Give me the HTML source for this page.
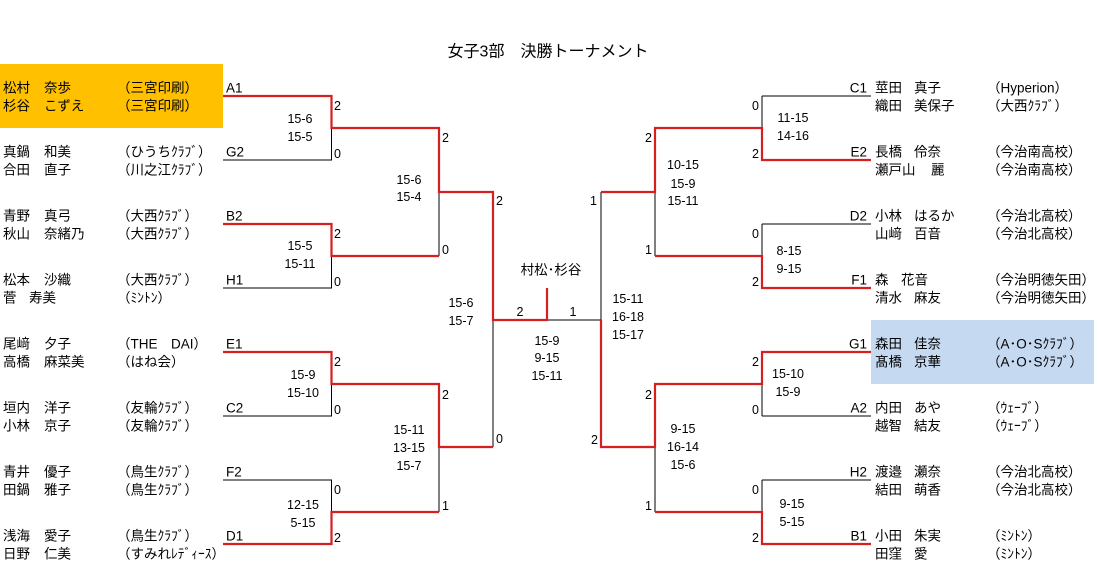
<!DOCTYPE html>
<html><head><meta charset="utf-8"><style>
html,body{margin:0;padding:0;background:#fff;}
svg{display:block;font-family:"Liberation Sans","Noto Sans CJK JP",sans-serif;}
text{dominant-baseline:central;fill:#000;}
.n{font-size:13.5px;}
.s{font-size:12.5px;fill:#1a1a2a;}
.c{text-anchor:middle;}
.e{text-anchor:end;}
</style></head><body>
<svg width="1094" height="577" viewBox="0 0 1094 577">
<rect x="0" y="64" width="223" height="64" fill="#FFC000"/>
<rect x="871" y="320" width="223" height="64" fill="#C5D9F1"/>
<text x="548" y="52" class="c" style="font-size:16px">女子3部　決勝トーナメント</text>

<g stroke="#000" stroke-width="1" fill="none">
<path d="M223 160H331.5V128M223 288H331.5V256M223 416H331.5V384M223 480H331.5V512M439 192V256M493 320V447M439 447V512M547 320H601V192M762 96H871M762 96V128M762 224H871M762 224V256M762 416H871M762 416V384M762 480H871M762 480V512M655 192V256M655 447V512"/>
</g>
<g stroke="#d42020" stroke-width="2.2" fill="none">
<path d="M223 96H331.5V128H439V192H493V320H547V288"/>
<path d="M223 224H331.5V256H439"/>
<path d="M223 352H331.5V384H439V447H493"/>
<path d="M223 544H331.5V512H439"/>
<path d="M871 160H762V128H655V192H601"/>
<path d="M871 288H762V256H655"/>
<path d="M871 352H762V384H655V447H601V320"/>
<path d="M871 544H762V512H655"/>
</g>

<g class="n">
<text x="3" y="88">松村</text><text x="44" y="88">奈歩</text><text x="117" y="88">（三宮印刷）</text>
<text x="3" y="106">杉谷</text><text x="44" y="106">こずえ</text><text x="117" y="106">（三宮印刷）</text>
<text x="3" y="152">真鍋</text><text x="44" y="152">和美</text><text x="117" y="152">（ひうちｸﾗﾌﾞ）</text>
<text x="3" y="170">合田</text><text x="44" y="170">直子</text><text x="117" y="170">（川之江ｸﾗﾌﾞ）</text>
<text x="3" y="216">青野</text><text x="44" y="216">真弓</text><text x="117" y="216">（大西ｸﾗﾌﾞ）</text>
<text x="3" y="234">秋山</text><text x="44" y="234">奈緒乃</text><text x="117" y="234">（大西ｸﾗﾌﾞ）</text>
<text x="3" y="280">松本</text><text x="44" y="280">沙織</text><text x="117" y="280">（大西ｸﾗﾌﾞ）</text>
<text x="3" y="298">菅</text><text x="29" y="298">寿美</text><text x="117" y="298">（ﾐﾝﾄﾝ）</text>
<text x="3" y="344">尾﨑</text><text x="44" y="344">夕子</text><text x="117" y="344">（THE　DAI）</text>
<text x="3" y="362">高橋</text><text x="44" y="362">麻菜美</text><text x="117" y="362">（はね会）</text>
<text x="3" y="408">垣内</text><text x="44" y="408">洋子</text><text x="117" y="408">（友輪ｸﾗﾌﾞ）</text>
<text x="3" y="426">小林</text><text x="44" y="426">京子</text><text x="117" y="426">（友輪ｸﾗﾌﾞ）</text>
<text x="3" y="472">青井</text><text x="44" y="472">優子</text><text x="117" y="472">（鳥生ｸﾗﾌﾞ）</text>
<text x="3" y="490">田鍋</text><text x="44" y="490">雅子</text><text x="117" y="490">（鳥生ｸﾗﾌﾞ）</text>
<text x="3" y="536">浅海</text><text x="44" y="536">愛子</text><text x="117" y="536">（鳥生ｸﾗﾌﾞ）</text>
<text x="3" y="554">日野</text><text x="44" y="554">仁美</text><text x="117" y="554">（すみれﾚﾃﾞｨｰｽ）</text>
<text x="226" y="88">A1</text><text x="226" y="152">G2</text><text x="226" y="216">B2</text><text x="226" y="280">H1</text>
<text x="226" y="344">E1</text><text x="226" y="408">C2</text><text x="226" y="472">F2</text><text x="226" y="536">D1</text>

<text x="875" y="88">莖田</text><text x="914" y="88">真子</text><text x="987" y="88">（Hyperion）</text>
<text x="875" y="106">織田</text><text x="914" y="106">美保子</text><text x="987" y="106">（大西ｸﾗﾌﾞ）</text>
<text x="875" y="152">長橋</text><text x="914" y="152">伶奈</text><text x="987" y="152">（今治南高校）</text>
<text x="875" y="170">瀬戸山</text><text x="931" y="170">麗</text><text x="987" y="170">（今治南高校）</text>
<text x="875" y="216">小林</text><text x="914" y="216">はるか</text><text x="987" y="216">（今治北高校）</text>
<text x="875" y="234">山﨑</text><text x="914" y="234">百音</text><text x="987" y="234">（今治北高校）</text>
<text x="875" y="280">森</text><text x="901" y="280">花音</text><text x="987" y="280">（今治明徳矢田）</text>
<text x="875" y="298">清水</text><text x="914" y="298">麻友</text><text x="987" y="298">（今治明徳矢田）</text>
<text x="875" y="344">森田</text><text x="914" y="344">佳奈</text><text x="987" y="344">（A･O･Sｸﾗﾌﾞ）</text>
<text x="875" y="362">髙橋</text><text x="914" y="362">京華</text><text x="987" y="362">（A･O･Sｸﾗﾌﾞ）</text>
<text x="875" y="408">内田</text><text x="914" y="408">あや</text><text x="987" y="408">（ｳｪｰﾌﾞ）</text>
<text x="875" y="426">越智</text><text x="914" y="426">結友</text><text x="987" y="426">（ｳｪｰﾌﾞ）</text>
<text x="875" y="472">渡邉</text><text x="914" y="472">瀬奈</text><text x="987" y="472">（今治北高校）</text>
<text x="875" y="490">結田</text><text x="914" y="490">萌香</text><text x="987" y="490">（今治北高校）</text>
<text x="875" y="536">小田</text><text x="914" y="536">朱実</text><text x="987" y="536">（ﾐﾝﾄﾝ）</text>
<text x="875" y="554">田窪</text><text x="914" y="554">愛</text><text x="987" y="554">（ﾐﾝﾄﾝ）</text>
<g class="e"><text x="867" y="88">C1</text><text x="867" y="152">E2</text><text x="867" y="216">D2</text><text x="867" y="280">F1</text>
<text x="867" y="344">G1</text><text x="867" y="408">A2</text><text x="867" y="472">H2</text><text x="867" y="536">B1</text></g>
<text x="551" y="270" class="c">村松･杉谷</text>
</g>

<g class="n" style="font-size:12.5px">
<text x="334" y="106">2</text><text x="334" y="154">0</text>
<text x="334" y="234">2</text><text x="334" y="282">0</text>
<text x="334" y="362">2</text><text x="334" y="410">0</text>
<text x="334" y="490">0</text><text x="334" y="538">2</text>
<text x="442" y="138">2</text><text x="442" y="250">0</text>
<text x="442" y="395">2</text><text x="442" y="506">1</text>
<text x="496" y="201">2</text><text x="496" y="439">0</text>
<text x="520" y="312" class="c">2</text><text x="573" y="312" class="c">1</text>
<text x="597" y="201" class="e">1</text><text x="598" y="440" class="e">2</text>
<text x="652" y="138" class="e">2</text><text x="652" y="250" class="e">1</text>
<text x="652" y="395" class="e">2</text><text x="652" y="506" class="e">1</text>
<text x="759" y="106" class="e">0</text><text x="759" y="154" class="e">2</text>
<text x="759" y="234" class="e">0</text><text x="759" y="282" class="e">2</text>
<text x="759" y="362" class="e">2</text><text x="759" y="410" class="e">0</text>
<text x="759" y="490" class="e">0</text><text x="759" y="538" class="e">2</text>
</g>

<g class="s c">
<text x="300" y="119">15-6</text><text x="300" y="137">15-5</text>
<text x="300" y="246">15-5</text><text x="300" y="264">15-11</text>
<text x="303" y="375">15-9</text><text x="303" y="393">15-10</text>
<text x="303" y="505">12-15</text><text x="303" y="523">5-15</text>
<text x="409" y="180">15-6</text><text x="409" y="197">15-4</text>
<text x="409" y="430">15-11</text><text x="409" y="448">13-15</text><text x="409" y="466">15-7</text>
<text x="461" y="303">15-6</text><text x="461" y="321">15-7</text>
<text x="547" y="341">15-9</text><text x="547" y="358">9-15</text><text x="547" y="376">15-11</text>
<text x="628" y="299">15-11</text><text x="628" y="317">16-18</text><text x="628" y="335">15-17</text>
<text x="683" y="165">10-15</text><text x="683" y="184">15-9</text><text x="683" y="201">15-11</text>
<text x="683" y="429">9-15</text><text x="683" y="447">16-14</text><text x="683" y="465">15-6</text>
<text x="793" y="118">11-15</text><text x="793" y="136">14-16</text>
<text x="789" y="251">8-15</text><text x="789" y="269">9-15</text>
<text x="788" y="374">15-10</text><text x="788" y="392">15-9</text>
<text x="792" y="504">9-15</text><text x="792" y="522">5-15</text>
</g>
</svg>
</body></html>
